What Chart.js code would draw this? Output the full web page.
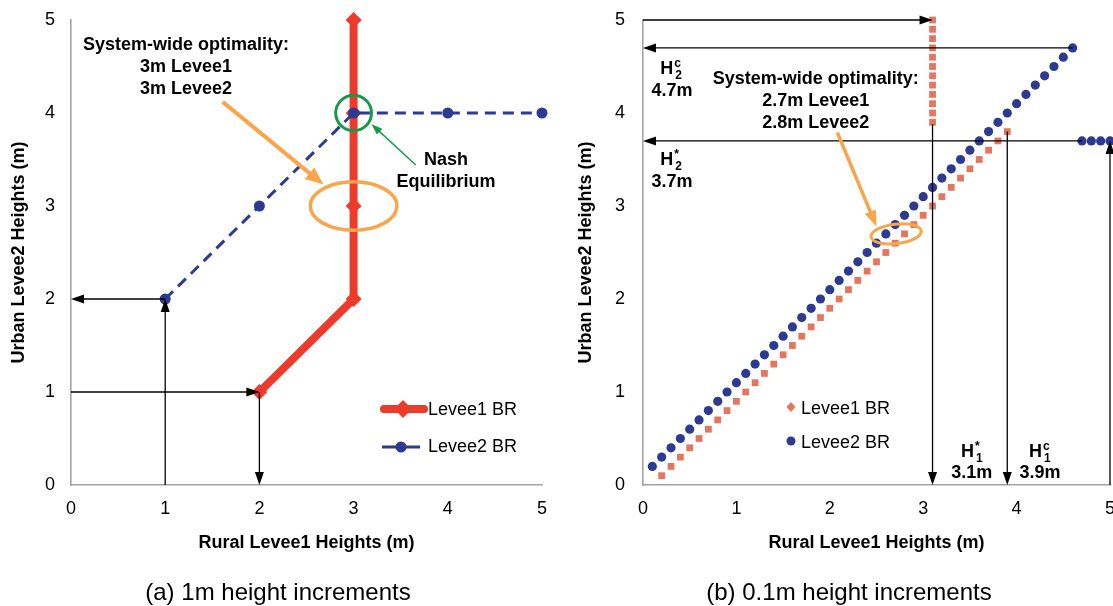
<!DOCTYPE html>
<html lang="en">
<head>
<meta charset="UTF-8">
<title>Levee best responses</title>
<script src="https://cdn.jsdelivr.net/npm/chart.js"></script>
<style>
    html, body { margin: 0; padding: 0; background: #fff; overflow: hidden; }
    .wrap { position: relative; width: 1113px; height: 606px; overflow: hidden; }
    canvas { position: absolute; top: 0; }
    #chartA { left: 0; }
    #chartB { left: 560px; }
</style>
</head>
<body>
<div class="wrap">
    <canvas id="chartA" width="560" height="606"></canvas>
    <canvas id="chartB" width="568" height="606"></canvas>
</div>
<script>
// (a) 1m height increments
const levee1X_a = [2, 3, 3, 3, 3];
const levee1Y_a = [1, 2, 3, 4, 5];
const levee2X_a = [1, 2, 3, 4, 5];
const levee2Y_a = [2, 3, 4, 4, 4];

// (b) 0.1m height increments
const levee1X_b = [0.2,0.3,0.4,0.5,0.6,0.7,0.8,0.9,1.0,1.1,1.2,1.3,1.4,1.5,1.6,1.7,1.8,1.9,2.0,2.1,
    2.2,2.3,2.4,2.5,2.6,2.7,2.8,2.9,3.0,3.1,3.2,3.3,3.4,3.5,3.6,3.7,3.8,3.9,
    3.1,3.1,3.1,3.1,3.1,3.1,3.1,3.1,3.1,3.1,3.1,3.1];
const levee1Y_b = [0.1,0.2,0.3,0.4,0.5,0.6,0.7,0.8,0.9,1.0,1.1,1.2,1.3,1.4,1.5,1.6,1.7,1.8,1.9,2.0,
    2.1,2.2,2.3,2.4,2.5,2.6,2.7,2.8,2.9,3.0,3.1,3.2,3.3,3.4,3.5,3.6,3.7,3.8,
    3.9,4.0,4.1,4.2,4.3,4.4,4.5,4.6,4.7,4.8,4.9,5.0];
const levee2X_b = [0.1,0.2,0.3,0.4,0.5,0.6,0.7,0.8,0.9,1.0,1.1,1.2,1.3,1.4,1.5,1.6,1.7,1.8,1.9,2.0,
    2.1,2.2,2.3,2.4,2.5,2.6,2.7,2.8,2.9,3.0,3.1,3.2,3.3,3.4,3.5,3.6,3.7,3.8,3.9,4.0,
    4.1,4.2,4.3,4.4,4.5,4.6,4.7,4.8,4.9,5.0];
const levee2Y_b = [0.2,0.3,0.4,0.5,0.6,0.7,0.8,0.9,1.0,1.1,1.2,1.3,1.4,1.5,1.6,1.7,1.8,1.9,2.0,2.1,
    2.2,2.3,2.4,2.5,2.6,2.7,2.8,2.9,3.0,3.1,3.2,3.3,3.4,3.5,3.6,3.7,3.8,3.9,4.0,4.1,
    4.2,4.3,4.4,4.5,4.6,4.7,3.7,3.7,3.7,3.7];

const seriesNames = ['Levee1 BR', 'Levee2 BR'];
const xTitle = 'Rural Levee1 Heights (m)';
const yTitle = 'Urban Levee2 Heights (m)';

const RED = '#ee3a2a', BLUE = '#2c3a92', SALMON = '#e4765f', ORANGE = '#f8a64c', GREEN = '#15994a';
const FONT = '"Liberation Sans", Arial, sans-serif';

Chart.defaults.font.family = FONT;
Chart.defaults.color = '#000';

const pts = (xs, ys) => xs.map((x, i) => ({ x: x, y: ys[i] }));

function drawArrow(ctx, x1, y1, x2, y2, color, lw, hl, hw) {
    const a = Math.atan2(y2 - y1, x2 - x1);
    const c = Math.cos(a), s = Math.sin(a);
    ctx.save();
    ctx.strokeStyle = color;
    ctx.fillStyle = color;
    ctx.lineWidth = lw;
    ctx.beginPath();
    ctx.moveTo(x1, y1);
    ctx.lineTo(x2 - c * hl * 0.7, y2 - s * hl * 0.7);
    ctx.stroke();
    ctx.beginPath();
    ctx.moveTo(x2, y2);
    ctx.lineTo(x2 - hl * c + hw / 2 * s, y2 - hl * s - hw / 2 * c);
    ctx.lineTo(x2 - hl * c - hw / 2 * s, y2 - hl * s + hw / 2 * c);
    ctx.closePath();
    ctx.fill();
    ctx.restore();
}

// text with optional superscript / subscript (H^c_2 style)
function drawLabel(ctx, t, x, y) {
    ctx.save();
    ctx.fillStyle = '#000';
    ctx.textBaseline = 'middle';
    const big = 'bold 18px ' + FONT, small = 'bold 12px ' + FONT;
    ctx.font = big;
    const w0 = ctx.measureText(t.text).width;
    let w1 = 0;
    if (t.sup || t.sub) {
        ctx.font = small;
        w1 = Math.max(ctx.measureText(t.sup || '').width, ctx.measureText(t.sub || '').width) + 2;
    }
    let left = x - (w0 + w1) / 2;
    ctx.font = big;
    ctx.textAlign = 'left';
    ctx.fillText(t.text, left, y);
    if (t.sup || t.sub) {
        ctx.font = small;
        if (t.sup) ctx.fillText(t.sup, left + w0 + 1, y - 6);
        if (t.sub) ctx.fillText(t.sub, left + w0 + 2, y + 6);
    }
    ctx.restore();
}

function makeDecor(cfg) {
    return {
        id: 'decor',
        afterDatasetsDraw(chart) {
            const ctx = chart.ctx;
            const px = v => chart.scales.x.getPixelForValue(v);
            const py = v => chart.scales.y.getPixelForValue(v);
            cfg.ellipses.forEach(e => {
                const cx = px(e.x), cy = py(e.y);
                const rx = Math.abs(px(e.x + e.rx) - cx), ry = Math.abs(py(e.y + e.ry) - cy);
                ctx.save();
                ctx.strokeStyle = e.color;
                ctx.lineWidth = e.width;
                ctx.beginPath();
                ctx.ellipse(cx, cy, rx, ry, e.rot || 0, 0, Math.PI * 2);
                ctx.stroke();
                ctx.restore();
            });
            cfg.arrows.forEach(a => {
                drawArrow(ctx, px(a.from[0]), py(a.from[1]), px(a.to[0]), py(a.to[1]),
                    a.color, a.width, a.head[0], a.head[1]);
            });
            cfg.texts.forEach(t => drawLabel(ctx, t, px(t.x), py(t.y)));
        },
        afterDraw(chart) {
            const ctx = chart.ctx;
            // legend
            cfg.legend(ctx);
            // caption
            ctx.save();
            ctx.font = '24px ' + FONT;
            ctx.fillStyle = '#000';
            ctx.textAlign = 'center';
            ctx.textBaseline = 'middle';
            ctx.fillText(cfg.caption, cfg.captionX, 593);
            ctx.restore();
        }
    };
}

function axisOptions(boxWidth, tickPad, titlePad) {
    return {
        x: {
            type: 'linear', min: 0, max: 5,
            ticks: { stepSize: 1, padding: 13, font: { size: 18 } },
            grid: { display: false, drawTicks: false },
            border: { display: true, color: '#a3a3a3', width: 1.6 },
            title: { display: true, text: xTitle, font: { size: 18, weight: 'bold' }, padding: { top: 0, bottom: 11 } },
            afterFit: s => { s.height = 80; s.paddingLeft = 0; s.paddingRight = 0; }
        },
        y: {
            type: 'linear', min: 0, max: 5,
            ticks: { stepSize: 1, padding: tickPad, font: { size: 18 } },
            grid: { display: false, drawTicks: false },
            border: { display: true, color: '#a3a3a3', width: 1.6 },
            title: { display: true, text: yTitle, font: { size: 18, weight: 'bold' }, padding: { top: titlePad, bottom: 0 } },
            afterFit: s => { s.width = boxWidth; s.paddingTop = 0; s.paddingBottom = 0; }
        }
    };
}

const BLACK_HEAD = [13, 9];

const decorA = {
    caption: '(a) 1m height increments',
    captionX: 278,
    ellipses: [
        { x: 3, y: 3, rx: 0.46, ry: 0.26, color: ORANGE, width: 3.5 },
        { x: 3, y: 4, rx: 0.19, ry: 0.19, color: GREEN, width: 3 }
    ],
    arrows: [
        { from: [1, 0], to: [1, 2], color: '#000', width: 1.3, head: BLACK_HEAD },
        { from: [1, 2], to: [0, 2], color: '#000', width: 1.3, head: BLACK_HEAD },
        { from: [0, 1], to: [2, 1], color: '#000', width: 1.3, head: BLACK_HEAD },
        { from: [2, 1], to: [2, 0], color: '#000', width: 1.3, head: BLACK_HEAD },
        { from: [1.61, 4.12], to: [2.68, 3.23], color: ORANGE, width: 4, head: [18, 15] },
        { from: [3.66, 3.44], to: [3.19, 3.88], color: GREEN, width: 1.4, head: [11, 8] }
    ],
    texts: [
        { text: 'System-wide optimality:', x: 1.22, y: 4.73 },
        { text: '3m Levee1', x: 1.22, y: 4.49 },
        { text: '3m Levee2', x: 1.22, y: 4.26 },
        { text: 'Nash', x: 3.98, y: 3.49 },
        { text: 'Equilibrium', x: 3.98, y: 3.26 }
    ],
    legend(ctx) {
        ctx.save();
        // Levee1
        ctx.strokeStyle = RED; ctx.lineWidth = 8; ctx.lineCap = 'round';
        ctx.beginPath(); ctx.moveTo(384, 409); ctx.lineTo(424, 409); ctx.stroke();
        ctx.fillStyle = RED;
        ctx.beginPath(); ctx.moveTo(403, 400); ctx.lineTo(412, 409); ctx.lineTo(403, 418); ctx.lineTo(394, 409); ctx.closePath(); ctx.fill();
        // Levee2
        ctx.strokeStyle = BLUE; ctx.lineWidth = 3; ctx.lineCap = 'butt';
        ctx.beginPath(); ctx.moveTo(382, 447); ctx.lineTo(420, 447); ctx.stroke();
        ctx.fillStyle = BLUE;
        ctx.beginPath(); ctx.arc(401, 447, 5.5, 0, Math.PI * 2); ctx.fill();
        ctx.font = '18px ' + FONT; ctx.fillStyle = '#000'; ctx.textBaseline = 'middle';
        ctx.fillText(seriesNames[0], 428, 410);
        ctx.fillText(seriesNames[1], 428, 447);
        ctx.restore();
    }
};

const decorB = {
    caption: '(b) 0.1m height increments',
    captionX: 289,
    ellipses: [
        { x: 2.71, y: 2.70, rx: 0.27, ry: 0.105, rot: -0.12, color: ORANGE, width: 3 }
    ],
    arrows: [
        { from: [0, 5], to: [3.1, 5], color: '#000', width: 1.3, head: BLACK_HEAD },
        { from: [4.6, 4.7], to: [0, 4.7], color: '#000', width: 1.3, head: BLACK_HEAD },
        { from: [4.7, 3.7], to: [0, 3.7], color: '#000', width: 1.3, head: BLACK_HEAD },
        { from: [5, 0], to: [5, 3.7], color: '#000', width: 1.3, head: BLACK_HEAD },
        { from: [3.1, 3.88], to: [3.1, 0], color: '#000', width: 1.3, head: BLACK_HEAD },
        { from: [3.9, 3.8], to: [3.9, 0], color: '#000', width: 1.3, head: BLACK_HEAD },
        { from: [2.08, 3.79], to: [2.50, 2.78], color: ORANGE, width: 3.5, head: [16, 12] }
    ],
    texts: [
        { text: 'H', sup: 'c', sub: '2', x: 0.3, y: 4.47 },
        { text: '4.7m', x: 0.31, y: 4.24 },
        { text: 'H', sup: '*', sub: '2', x: 0.3, y: 3.49 },
        { text: '3.7m', x: 0.31, y: 3.26 },
        { text: 'System-wide optimality:', x: 1.85, y: 4.37 },
        { text: '2.7m Levee1', x: 1.85, y: 4.13 },
        { text: '2.8m Levee2', x: 1.85, y: 3.89 },
        { text: 'H', sup: '*', sub: '1', x: 3.52, y: 0.35 },
        { text: '3.1m', x: 3.52, y: 0.13 },
        { text: 'H', sup: 'c', sub: '1', x: 4.25, y: 0.35 },
        { text: '3.9m', x: 4.25, y: 0.13 }
    ],
    legend(ctx) {
        ctx.save();
        ctx.fillStyle = SALMON;
        ctx.beginPath(); ctx.moveTo(231, 402); ctx.lineTo(235.5, 407); ctx.lineTo(231, 412); ctx.lineTo(226.5, 407); ctx.closePath(); ctx.fill();
        ctx.fillStyle = BLUE;
        ctx.beginPath(); ctx.arc(231, 441, 4.5, 0, Math.PI * 2); ctx.fill();
        ctx.font = '18px ' + FONT; ctx.fillStyle = '#000'; ctx.textBaseline = 'middle';
        ctx.fillText(seriesNames[0], 241, 409);
        ctx.fillText(seriesNames[1], 241, 443);
        ctx.restore();
    }
};

new Chart(document.getElementById('chartA'), {
    type: 'scatter',
    data: {
        datasets: [
            {
                label: seriesNames[1], data: pts(levee2X_a, levee2Y_a), order: 1,
                showLine: true, borderColor: BLUE, borderWidth: 3, borderDash: [11, 7],
                pointStyle: 'circle', pointRadius: 5.5, pointBackgroundColor: BLUE, pointBorderColor: BLUE,
                pointBorderWidth: 0, clip: false
            },
            {
                label: seriesNames[0], data: pts(levee1X_a, levee1Y_a), order: 2,
                showLine: true, borderColor: RED, borderWidth: 8,
                pointStyle: 'rectRot', pointRadius: 8, pointBackgroundColor: RED, pointBorderColor: RED,
                pointBorderWidth: 0, clip: false
            }
        ]
    },
    options: {
        responsive: false,
        animation: false,
        layout: { padding: { left: 0, right: 18, top: 20, bottom: 41 } },
        plugins: { legend: { display: false }, tooltip: { enabled: false } },
        scales: axisOptions(71, 16, 8)
    },
    plugins: [makeDecor(decorA)]
});

new Chart(document.getElementById('chartB'), {
    type: 'scatter',
    data: {
        datasets: [
            {
                label: seriesNames[1], data: pts(levee2X_b, levee2Y_b), order: 1,
                pointStyle: 'circle', pointRadius: 4.6, pointBackgroundColor: BLUE, pointBorderColor: BLUE,
                pointBorderWidth: 0, clip: false
            },
            {
                label: seriesNames[0], data: pts(levee1X_b, levee1Y_b), order: 2,
                pointStyle: 'rect', pointRadius: 4.8, pointBackgroundColor: SALMON, pointBorderColor: SALMON,
                pointBorderWidth: 0, clip: false
            }
        ]
    },
    options: {
        responsive: false,
        animation: false,
        layout: { padding: { left: 0, right: 18, top: 20, bottom: 41 } },
        plugins: { legend: { display: false }, tooltip: { enabled: false } },
        scales: axisOptions(83, 18, 15)
    },
    plugins: [makeDecor(decorB)]
});
</script>
</body>
</html>
